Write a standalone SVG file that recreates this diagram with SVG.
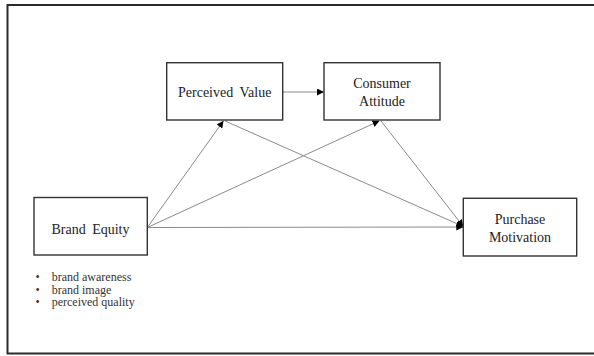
<svg xmlns="http://www.w3.org/2000/svg" width="594" height="356" viewBox="0 0 594 356">
<style>
.box{fill:#fff;stroke:#333;stroke-width:1.4}
.lbl{font-family:"Liberation Serif","Times New Roman",serif;font-size:14px;fill:#222;text-anchor:middle;word-spacing:3px}
.bul{font-family:"Liberation Serif","Times New Roman",serif;font-size:12px;fill:#333}
.ln{stroke:#8a8a8a;stroke-width:1;fill:none;marker-end:url(#ah)}
</style>
<defs>
<marker id="ah" viewBox="0 0 10 10" refX="10" refY="5" markerWidth="7" markerHeight="7" markerUnits="userSpaceOnUse" orient="auto">
<path d="M0,0 L10,5 L0,10 z" fill="#000"/>
</marker>
</defs>
<rect width="594" height="356" fill="#fff"/>
<path d="M600,5 H7.5 V353.5 H600" fill="none" stroke="#2a2a2a" stroke-width="2"/>
<g id="connectors">
<line class="ln" x1="282.7" y1="92" x2="324" y2="92"/>
<line class="ln" x1="147.3" y1="227.5" x2="223.5" y2="120.8"/>
<line class="ln" x1="147.3" y1="227.5" x2="379.5" y2="120.8"/>
<line class="ln" x1="147.3" y1="227.5" x2="463.3" y2="227"/>
<line class="ln" x1="225" y1="121" x2="463.3" y2="226.5"/>
<line class="ln" x1="381" y1="121" x2="463.3" y2="226.5"/>
</g>
<g id="perceived-value">
<rect class="box" x="166.7" y="62.7" width="116" height="57.3"/>
<text class="lbl" x="224.7" y="96.8">Perceived Value</text>
</g>
<g id="consumer-attitude">
<rect class="box" x="324" y="62.7" width="116" height="57.3"/>
<text class="lbl" x="382" y="87.8">Consumer</text>
<text class="lbl" x="382" y="105.8">Attitude</text>
</g>
<g id="brand-equity">
<rect class="box" x="34" y="197.5" width="113.3" height="57.5"/>
<text class="lbl" x="90.5" y="233.8">Brand Equity</text>
</g>
<g id="purchase-motivation">
<rect class="box" x="463.3" y="198.3" width="113.4" height="57.7"/>
<text class="lbl" x="520" y="223.8">Purchase</text>
<text class="lbl" x="520" y="241.8">Motivation</text>
</g>
<g id="brand-equity-dimensions">
<text class="bul" x="35.5" y="281">•</text>
<text class="bul" x="51.7" y="281">brand awareness</text>
<text class="bul" x="35.5" y="293.7">•</text>
<text class="bul" x="51.7" y="293.7">brand image</text>
<text class="bul" x="35.5" y="306.4">•</text>
<text class="bul" x="51.7" y="306.4">perceived quality</text>
</g>
</svg>
